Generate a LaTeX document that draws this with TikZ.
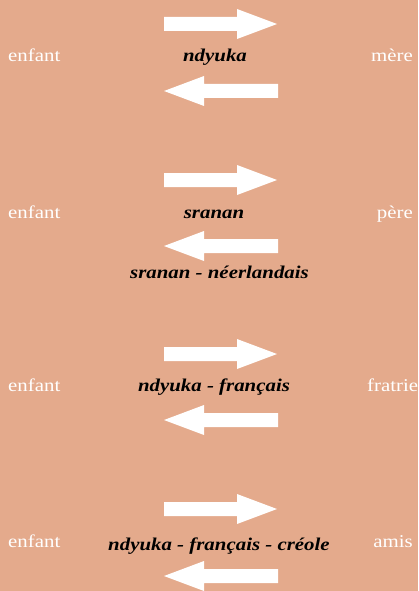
\documentclass[tikz,border=0pt]{standalone}
\usepackage{fontspec}
\setmainfont{Liberation Serif}[FakeStretch=1.16]
\definecolor{bg}{RGB}{228,170,140}
\tikzset{
  side/.style={text=white, font=\fontsize{18}{20}\selectfont, anchor=base, inner sep=0pt},
  lang/.style={text=black, font=\fontsize{18}{20}\selectfont\bfseries\itshape, anchor=base, inner sep=0pt},
  arr/.style={fill=white, draw=none}
}
\begin{document}
\begin{tikzpicture}[x=1pt,y=-1pt]
\fill[bg] (0,0) rectangle (418,591);
\useasboundingbox (0,0) rectangle (418,591);
\newcommand{\rarr}[1]{\fill[arr] (164,#1-7) -- (237,#1-7) -- (237,#1-15) -- (277,#1) -- (237,#1+15) -- (237,#1+7) -- (164,#1+7) -- cycle;}
\newcommand{\larr}[1]{\fill[arr] (278,#1-7) -- (204,#1-7) -- (204,#1-15) -- (164,#1) -- (204,#1+15) -- (204,#1+7) -- (278,#1+7) -- cycle;}
% group 1
\rarr{24}\larr{91}
\node[side, anchor=base west] (e1) at (8,62) {enfant};
\node[side, anchor=base east] (m1) at (413,62) {mère};
\node[lang] (l1) at (215,62) {ndyuka};
% group 2
\rarr{180}\larr{246}
\node[side, anchor=base west] (e2) at (8,218) {enfant};
\node[side, anchor=base east] (m2) at (413,218) {père};
\node[lang] (l2) at (214,218) {sranan};
\node[lang] (l2b) at (219.5,278) {sranan - néerlandais};
% group 3
\rarr{354}\larr{420}
\node[side, anchor=base west] (e3) at (8,391) {enfant};
\node[side, anchor=base west] (m3) at (367,391) {fratrie};
\node[lang] (l3) at (214,391) {ndyuka - français};
% group 4
\rarr{509}\larr{576}
\node[side, anchor=base west] (e4) at (8,547) {enfant};
\node[side, anchor=base east] (m4) at (413,547) {amis};
\node[lang] (l4) at (219,550) {ndyuka - français - créole};
\end{tikzpicture}
\end{document}
